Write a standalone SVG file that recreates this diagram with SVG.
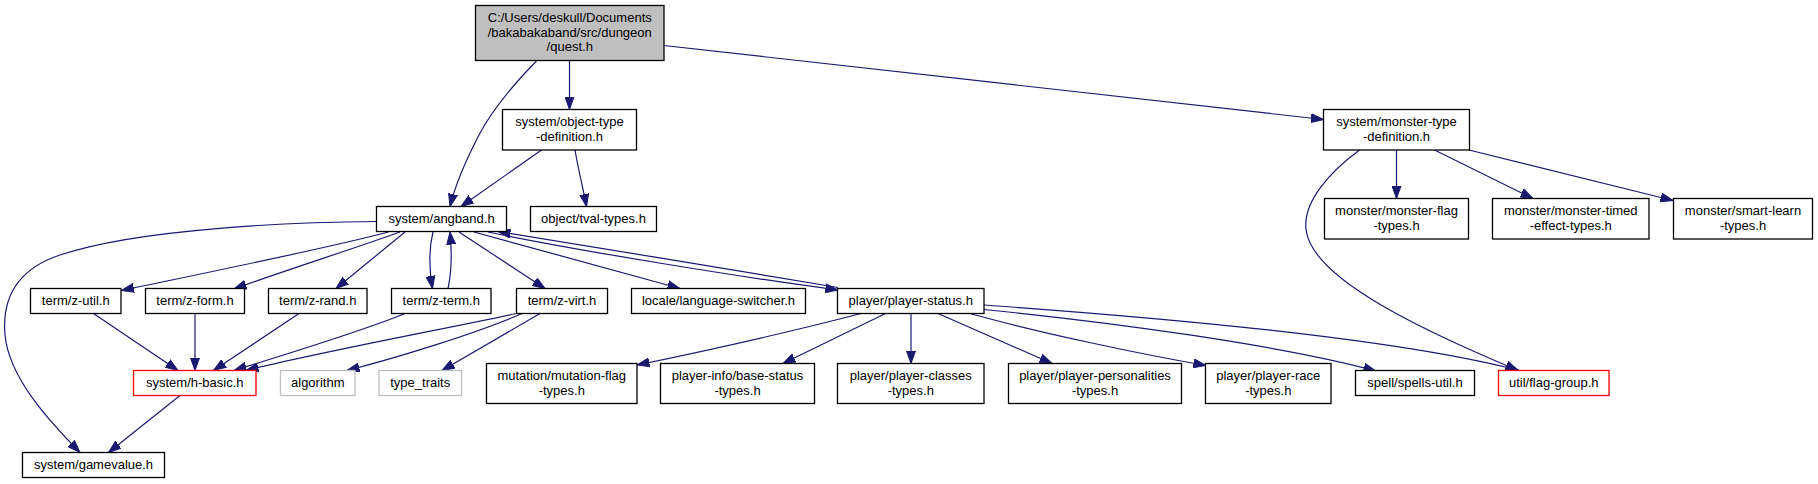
<svg xmlns="http://www.w3.org/2000/svg" width="1818" height="484" viewBox="0 0 1818 484">
<style>
.n rect{fill:#ffffff;stroke:#000000;stroke-width:1.3}
.n.root rect{fill:#bfbfbf}
.n.red rect{stroke:#ff0000}
.n.ext rect{stroke:#bfbfbf}
.n text{font-family:"Liberation Sans",Arial,sans-serif;font-size:13px;fill:#000000;text-anchor:middle}
.e path{fill:none;stroke:#191970;stroke-width:1.2;marker-end:url(#ah)}
</style>
<defs>
<marker id="ah" markerUnits="userSpaceOnUse" viewBox="0 0 13 10" refX="12.5" refY="5" markerWidth="13" markerHeight="10" orient="auto">
<path d="M0,0.5 L12.5,5 L0,9.5 z" fill="#191970" stroke="#191970" stroke-width="1"/>
</marker>
</defs>
<rect width="1818" height="484" fill="#ffffff"/>
<g id="edges" class="e">
<path d="M536.5,61 C514,84 492,110 479,135 C465,162 455,186 450,206.5"/>
<path d="M569.5,61 L569.5,109.5"/>
<path d="M664,45.5 L1323.5,119.5"/>
<path d="M541.5,150 L461,206.5"/>
<path d="M575,150 C578,168 583,188 586.5,206.5"/>
<path d="M376.5,221.5 C300,222 140,228 60,255 C15,270 2,300 5,335 C9,378 50,422 80,452.5"/>
<path d="M388.5,232 C320,250 190,276 121.5,290.5"/>
<path d="M400,232 C350,250 280,272 234,289"/>
<path d="M405,232 L336,288.5"/>
<path d="M433,232 C429,248 429,268 432.5,288.5"/>
<path d="M448,288.5 C452,270 452,252 450,232"/>
<path d="M459,232 L545,288.5"/>
<path d="M474,232 L680,288.5"/>
<path d="M488,232 C580,251 740,277 838,290"/>
<path d="M838,287.5 C750,272 590,247 498,231.5"/>
<path d="M93.5,313.5 L178,370.5"/>
<path d="M195,313.5 L195,370.5"/>
<path d="M299,313.5 L213.5,370.5"/>
<path d="M405,313.5 C360,332 280,356 234,370.5"/>
<path d="M516.5,313.5 C450,328 320,352 246,370.5"/>
<path d="M522,313.5 C480,332 400,357 347,370.5"/>
<path d="M540,313.5 L442,370.5"/>
<path d="M180,395.5 L108.5,452.5"/>
<path d="M861,313.5 C790,332 700,352 637,365"/>
<path d="M885.5,313.5 L783,363.5"/>
<path d="M911,313.5 L911,363.5"/>
<path d="M938,313.5 L1052,363.5"/>
<path d="M970,313.5 C1040,333 1140,354 1206,365.5"/>
<path d="M984,309.5 C1110,322 1280,345 1376,371"/>
<path d="M984,305 C1150,317 1390,337 1519,370.5"/>
<path d="M1396.5,150 L1396.5,198.5"/>
<path d="M1434.5,150 L1533,198.5"/>
<path d="M1469,150 L1673,200.5"/>
<path d="M1359.5,150 C1331,171 1303,201 1306,229 C1311,282 1440,337 1518,370.5"/>
</g>
<g id="quest" class="n root"><rect x="475.5" y="5.5" width="188.5" height="55"/><text x="569.75" y="22">C:/Users/deskull/Documents</text><text x="569.75" y="36.5">/bakabakaband/src/dungeon</text><text x="569.75" y="51">/quest.h</text></g>
<g id="objdef" class="n"><rect x="502.5" y="109.5" width="134" height="40.5"/><text x="569.5" y="126">system/object-type</text><text x="569.5" y="140.5">-definition.h</text></g>
<g id="monsterdef" class="n"><rect x="1323.5" y="109.5" width="146" height="40.5"/><text x="1396.5" y="126">system/monster-type</text><text x="1396.5" y="140.5">-definition.h</text></g>
<g id="angband" class="n"><rect x="376.5" y="206.5" width="130" height="25"/><text x="441.5" y="223">system/angband.h</text></g>
<g id="tval" class="n"><rect x="530.5" y="206.5" width="126" height="25"/><text x="593.5" y="223">object/tval-types.h</text></g>
<g id="mflag" class="n"><rect x="1324.5" y="198.5" width="144" height="40.5"/><text x="1396.5" y="215">monster/monster-flag</text><text x="1396.5" y="229.5">-types.h</text></g>
<g id="mtimed" class="n"><rect x="1492.5" y="198.5" width="156.5" height="40.5"/><text x="1570.75" y="215">monster/monster-timed</text><text x="1570.75" y="229.5">-effect-types.h</text></g>
<g id="smartlearn" class="n"><rect x="1673.5" y="198.5" width="139" height="40.5"/><text x="1743" y="215">monster/smart-learn</text><text x="1743" y="229.5">-types.h</text></g>
<g id="zutil" class="n"><rect x="30.5" y="288.5" width="90.5" height="25"/><text x="75.75" y="305">term/z-util.h</text></g>
<g id="zform" class="n"><rect x="145.5" y="288.5" width="99" height="25"/><text x="195" y="305">term/z-form.h</text></g>
<g id="zrand" class="n"><rect x="268.5" y="288.5" width="98.5" height="25"/><text x="317.75" y="305">term/z-rand.h</text></g>
<g id="zterm" class="n"><rect x="391.5" y="288.5" width="99.5" height="25"/><text x="441.25" y="305">term/z-term.h</text></g>
<g id="zvirt" class="n"><rect x="516.5" y="288.5" width="91" height="25"/><text x="562" y="305">term/z-virt.h</text></g>
<g id="locale" class="n"><rect x="631.5" y="288.5" width="174" height="25"/><text x="718.5" y="305">locale/language-switcher.h</text></g>
<g id="pstatus" class="n"><rect x="837.5" y="288.5" width="146.5" height="25"/><text x="910.75" y="305">player/player-status.h</text></g>
<g id="hbasic" class="n red"><rect x="133.5" y="370.5" width="122.5" height="25"/><text x="194.75" y="387">system/h-basic.h</text></g>
<g id="algorithm" class="n ext"><rect x="280.5" y="370.5" width="74.5" height="25"/><text x="317.75" y="387">algorithm</text></g>
<g id="typetraits" class="n ext"><rect x="379" y="370.5" width="82.5" height="25"/><text x="420.25" y="387">type_traits</text></g>
<g id="mutation" class="n"><rect x="486.5" y="363.5" width="150.5" height="40"/><text x="561.75" y="380">mutation/mutation-flag</text><text x="561.75" y="394.5">-types.h</text></g>
<g id="basestatus" class="n"><rect x="660.5" y="363.5" width="154" height="40"/><text x="737.5" y="380">player-info/base-status</text><text x="737.5" y="394.5">-types.h</text></g>
<g id="classes" class="n"><rect x="837.5" y="363.5" width="146.5" height="40"/><text x="910.75" y="380">player/player-classes</text><text x="910.75" y="394.5">-types.h</text></g>
<g id="personalities" class="n"><rect x="1008.5" y="363.5" width="173" height="40"/><text x="1095" y="380">player/player-personalities</text><text x="1095" y="394.5">-types.h</text></g>
<g id="race" class="n"><rect x="1205.5" y="363.5" width="125.5" height="40"/><text x="1268.25" y="380">player/player-race</text><text x="1268.25" y="394.5">-types.h</text></g>
<g id="spells" class="n"><rect x="1355.5" y="370.5" width="119" height="25"/><text x="1415" y="387">spell/spells-util.h</text></g>
<g id="flaggroup" class="n red"><rect x="1498.5" y="370.5" width="110.5" height="25"/><text x="1553.75" y="387">util/flag-group.h</text></g>
<g id="gamevalue" class="n"><rect x="22.5" y="452.5" width="142" height="25"/><text x="93.5" y="469">system/gamevalue.h</text></g>
</svg>
